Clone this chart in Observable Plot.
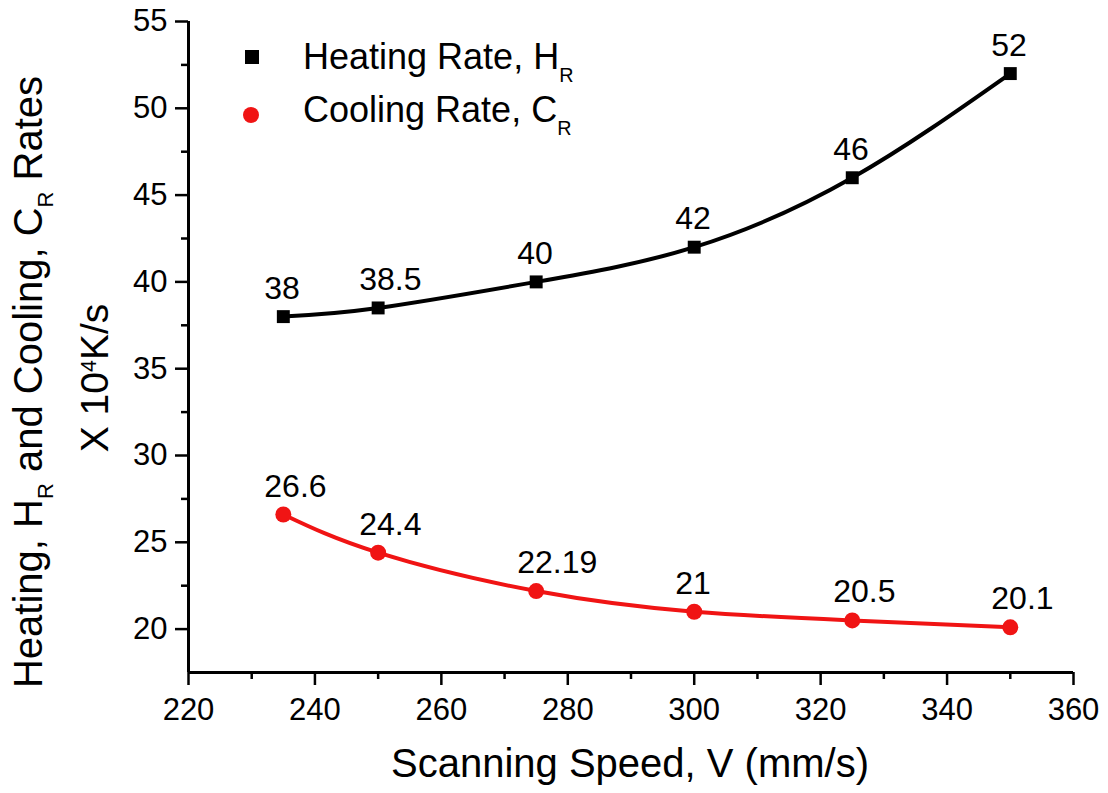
<!DOCTYPE html>
<html>
<head>
<meta charset="utf-8">
<script src="https://cdn.jsdelivr.net/npm/d3@7"></script>
<script src="https://cdn.jsdelivr.net/npm/@observablehq/plot@0.6"></script>
<style>
  html, body { margin: 0; padding: 0; background: #fff; }
  #chart svg { display: block; }
</style>
</head>
<body>
<div id="chart"></div>
<script>
// Scanning speed (mm/s) and the measured rates (x 10^4 K/s)
const speeds = [235, 250, 275, 300, 325, 350];
const heatingRate = [38, 38.5, 40, 42, 46, 52];
const coolingRate = [26.6, 24.4, 22.19, 21, 20.5, 20.1];

// Axis ticks
const xMajorTicks = [220, 240, 260, 280, 300, 320, 340, 360];
const xMinorTicks = [230, 250, 270, 290, 310, 330, 350];
const yMajorTicks = [20, 25, 30, 35, 40, 45, 50, 55];
const yMinorTicks = [22.5, 27.5, 32.5, 37.5, 42.5, 47.5, 52.5];

const heating = speeds.map((v, i) => ({v, rate: heatingRate[i]}));
const cooling = speeds.map((v, i) => ({v, rate: coolingRate[i]}));

const RED = "#f01414";
const FONT = "'Liberation Sans', Arial, sans-serif";

const valueLabel = {
  x: "v", y: "rate", text: d => String(d.rate),
  textAnchor: "start", lineAnchor: "bottom", dx: -19, dy: -18,
  fontSize: 32, fill: "black"
};

const chart = Plot.plot({
  width: 1108,
  height: 793,
  marginLeft: 188,
  marginRight: 35,
  marginTop: 21,
  marginBottom: 121,
  style: {fontFamily: FONT, color: "black", background: "white", overflow: "visible"},
  x: {domain: [220, 360]},
  y: {domain: [17.5, 55]},
  marks: [
    // minor ticks
    Plot.axisX({ticks: xMinorTicks, tickSize: 7, strokeWidth: 2.5, tickFormat: () => "", label: null}),
    Plot.axisY({ticks: yMinorTicks, tickSize: 7, strokeWidth: 2.5, tickFormat: () => "", label: null}),
    // major ticks with labels
    Plot.axisX({ticks: xMajorTicks, tickSize: 13, tickPadding: 12, strokeWidth: 2.5, fontSize: 31, label: null}),
    Plot.axisY({ticks: yMajorTicks, tickSize: 13, tickPadding: 8, strokeWidth: 2.5, fontSize: 31, label: null}),
    // axis lines
    Plot.ruleX([220], {stroke: "black", strokeWidth: 3}),
    Plot.ruleY([17.5], {stroke: "black", strokeWidth: 3}),
    // fitted curves
    Plot.line(heating, {x: "v", y: "rate", curve: "natural", stroke: "black", strokeWidth: 4}),
    Plot.line(cooling, {x: "v", y: "rate", curve: "natural", stroke: RED, strokeWidth: 4}),
    // points
    Plot.dot(heating, {x: "v", y: "rate", symbol: "square", r: 7.3, fill: "black"}),
    Plot.dot(cooling, {x: "v", y: "rate", symbol: "circle", r: 8, fill: RED}),
    // value labels
    Plot.text(heating, valueLabel),
    Plot.text(cooling, valueLabel)
  ]
});

document.getElementById("chart").appendChild(chart);

const svg = d3.select(chart);

// text with subscripted / superscripted parts, shifted with dy (px)
function richText(sel, parts, size, shift) {
  let offset = 0;
  parts.forEach(p => {
    const target = p.sub ? shift : p.sup ? -shift : 0;
    const t = sel.append("tspan").text(p.t);
    if (target !== offset) t.attr("dy", target - offset);
    if (p.sub || p.sup) t.attr("font-size", size * 0.55);
    offset = target;
  });
}

// legend
const legend = svg.append("g")
  .attr("font-family", FONT).attr("fill", "black").attr("text-anchor", "start");
legend.append("rect").attr("x", 245).attr("y", 50).attr("width", 14).attr("height", 14).attr("fill", "black");
legend.append("circle").attr("cx", 251).attr("cy", 115).attr("r", 8).attr("fill", RED);
richText(legend.append("text").attr("x", 303).attr("y", 69).attr("font-size", 36),
  [{t: "Heating Rate, H"}, {t: "R", sub: true}], 36, 13);
richText(legend.append("text").attr("x", 303).attr("y", 122).attr("font-size", 36),
  [{t: "Cooling Rate, C"}, {t: "R", sub: true}], 36, 13);

// x axis title
svg.append("text")
  .attr("x", 630).attr("y", 777)
  .attr("text-anchor", "middle")
  .attr("font-family", FONT).attr("font-size", 40).attr("fill", "black")
  .text("Scanning Speed, V (mm/s)");

// y axis title, two lines
richText(svg.append("text")
  .attr("transform", "translate(42,382) rotate(-90)")
  .attr("text-anchor", "middle")
  .attr("font-family", FONT).attr("font-size", 40).attr("fill", "black"),
  [{t: "Heating, H"}, {t: "R", sub: true}, {t: " and Cooling, C"}, {t: "R", sub: true}, {t: " Rates"}], 40, 11);
richText(svg.append("text")
  .attr("transform", "translate(108,378) rotate(-90)")
  .attr("text-anchor", "middle")
  .attr("font-family", FONT).attr("font-size", 39).attr("fill", "black"),
  [{t: "X 10"}, {t: "4", sup: true}, {t: "K/s"}], 39, 12);
</script>
</body>
</html>
